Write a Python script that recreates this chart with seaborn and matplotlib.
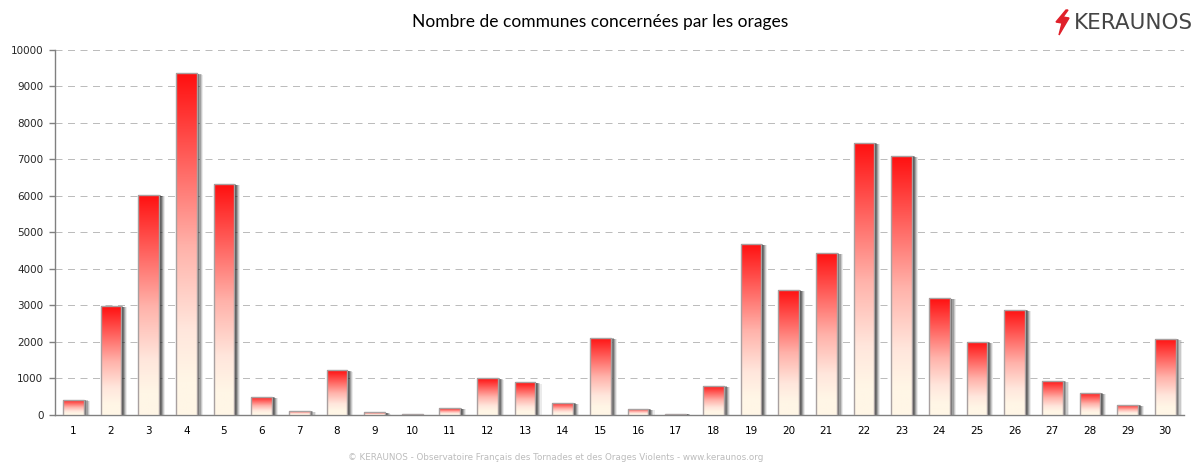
"""Thunderstorm chart: number of communes affected per day of the month."""

import matplotlib.pyplot as plt
import matplotlib.patheffects as pe
import matplotlib.patches as mpatches
from matplotlib.colors import LinearSegmentedColormap
import numpy as np
import seaborn as sns


# Values
DAYS = [str(d) for d in range(1, 31)]
COMMUNES = [420, 2980, 6020, 9350, 6320, 500, 120, 1220, 70, 20,
            190, 1000, 890, 330, 2110, 170, 40, 800, 4680, 3420,
            4440, 7450, 7090, 3200, 2000, 2880, 940, 610, 280, 2090]
Y_TICKS = list(range(0, 11000, 1000))

TITLE = "Nombre de communes concernées par les orages"
FOOTER = "© KERAUNOS - Observatoire Français des Tornades et des Orages Violents - www.keraunos.org"

# Color palette
COLORS = {
    "top": "#ff1010",
    "mid": "#ffb0a8",
    "low": "#ffe6dc",
    "bottom": "#fff6e6",
    "edge": "#a8a0a0",
    "axis": "#808080",
    "grid": "#bcbcbc",
    "footer": "#bcbcbc",
    "logo": "#454545",
    "bolt": "#e0202a",
}


def set_chart_style() -> None:
    """Configure matplotlib for the white spreadsheet look."""
    sns.set_style("white")
    plt.rcParams.update({
        "font.family": ["DejaVu Sans"],
        "font.size": 8,
        "xtick.labelsize": 7.5,
        "ytick.labelsize": 7.5,
        "axes.linewidth": 1.0,
        "axes.edgecolor": COLORS["axis"],
        "axes.spines.top": False,
        "axes.spines.right": False,
        "figure.dpi": 100,
    })


def plot_communes_bar(output_path: str, figsize: tuple[float, float] = (11.99, 4.72)) -> None:
    """Plot the gradient bars with their drop shadow and the logo.

    Args:
        output_path: Path to save the figure.
        figsize: Figure size in inches.
    """
    set_chart_style()
    fig = plt.figure(figsize=figsize)
    ax = fig.add_axes([54.5 / 1199, 57 / 472, 1129.5 / 1199, 365.5 / 472])

    sns.barplot(x=DAYS, y=COMMUNES, ax=ax, width=0.55, color="#ffffff",
                linewidth=0, errorbar=None, zorder=2)
    bars = list(ax.patches)

    # Gradient goes inside each bar, soft shadow comes from path effects
    cmap = LinearSegmentedColormap.from_list(
        "storm", [(0.0, COLORS["bottom"]), (0.1, COLORS["bottom"]), (0.25, COLORS["low"]),
                  (0.5, COLORS["mid"]), (1.0, COLORS["top"])])
    gradient = np.linspace(1, 0, 128).reshape(-1, 1)
    for bar in bars:
        bar.set_path_effects([
            pe.SimplePatchShadow(offset=(4.4, -0.9), shadow_rgbFace="#000000", alpha=0.08),
            pe.SimplePatchShadow(offset=(3.6, -0.7), shadow_rgbFace="#000000", alpha=0.14),
            pe.SimplePatchShadow(offset=(2.8, -0.6), shadow_rgbFace="#000000", alpha=0.20),
            pe.SimplePatchShadow(offset=(2.0, -0.4), shadow_rgbFace="#000000", alpha=0.28),
            pe.SimplePatchShadow(offset=(1.2, -0.3), shadow_rgbFace="#000000", alpha=0.28),
            pe.Normal(),
        ])
        x0, y0 = bar.get_xy()
        img = ax.imshow(gradient, cmap=cmap, aspect="auto", zorder=3,
                        extent=(x0, x0 + bar.get_width(), y0, y0 + bar.get_height()),
                        vmin=0, vmax=1)
        img.set_clip_path(bar)

    sns.barplot(x=DAYS, y=COMMUNES, ax=ax, width=0.55, color=COLORS["edge"],
                fill=False, linewidth=1.0, errorbar=None, zorder=4)

    ax.set_xlim(-0.5, len(DAYS) - 0.5)
    ax.set_ylim(0, 10000)
    ax.set_yticks(Y_TICKS)
    ax.set_xticks(np.arange(len(DAYS) + 1) - 0.5, minor=True)
    ax.tick_params(axis="x", which="major", length=0, pad=8, colors="black")
    ax.tick_params(axis="x", which="minor", length=4, width=1, color=COLORS["axis"])
    ax.tick_params(axis="y", length=4, width=1, color=COLORS["axis"], pad=4, left=True)
    ax.grid(axis="y", color=COLORS["grid"], linestyle=(0, (7, 5.5)), linewidth=0.72)
    ax.set_axisbelow(True)
    ax.set_xlabel("")
    ax.set_ylabel("")

    fig.text(600 / 1199, 1 - 22 / 472, TITLE, ha="center", va="center",
             fontsize=12.5, family="Lato", color="black")
    fig.text(556 / 1199, 1 - 458 / 472, FOOTER, ha="center", va="center",
             fontsize=6.3, color=COLORS["footer"])

    # Logo
    bolt = np.array([(1066, 10), (1056, 22), (1062, 23), (1059, 35),
                     (1069, 18), (1063, 17), (1068, 10)], dtype=float)
    bolt[:, 0] /= 1199
    bolt[:, 1] = 1 - bolt[:, 1] / 472
    fig.add_artist(mpatches.Polygon(bolt, closed=True, color=COLORS["bolt"],
                                    transform=fig.transFigure))
    fig.text(1133 / 1199, 1 - 23 / 472, "KERAUNOS", ha="center", va="center",
             fontsize=15.5, color=COLORS["logo"])

    plt.savefig(output_path, dpi=100)
    plt.close(fig)


plot_communes_bar("out.png")
